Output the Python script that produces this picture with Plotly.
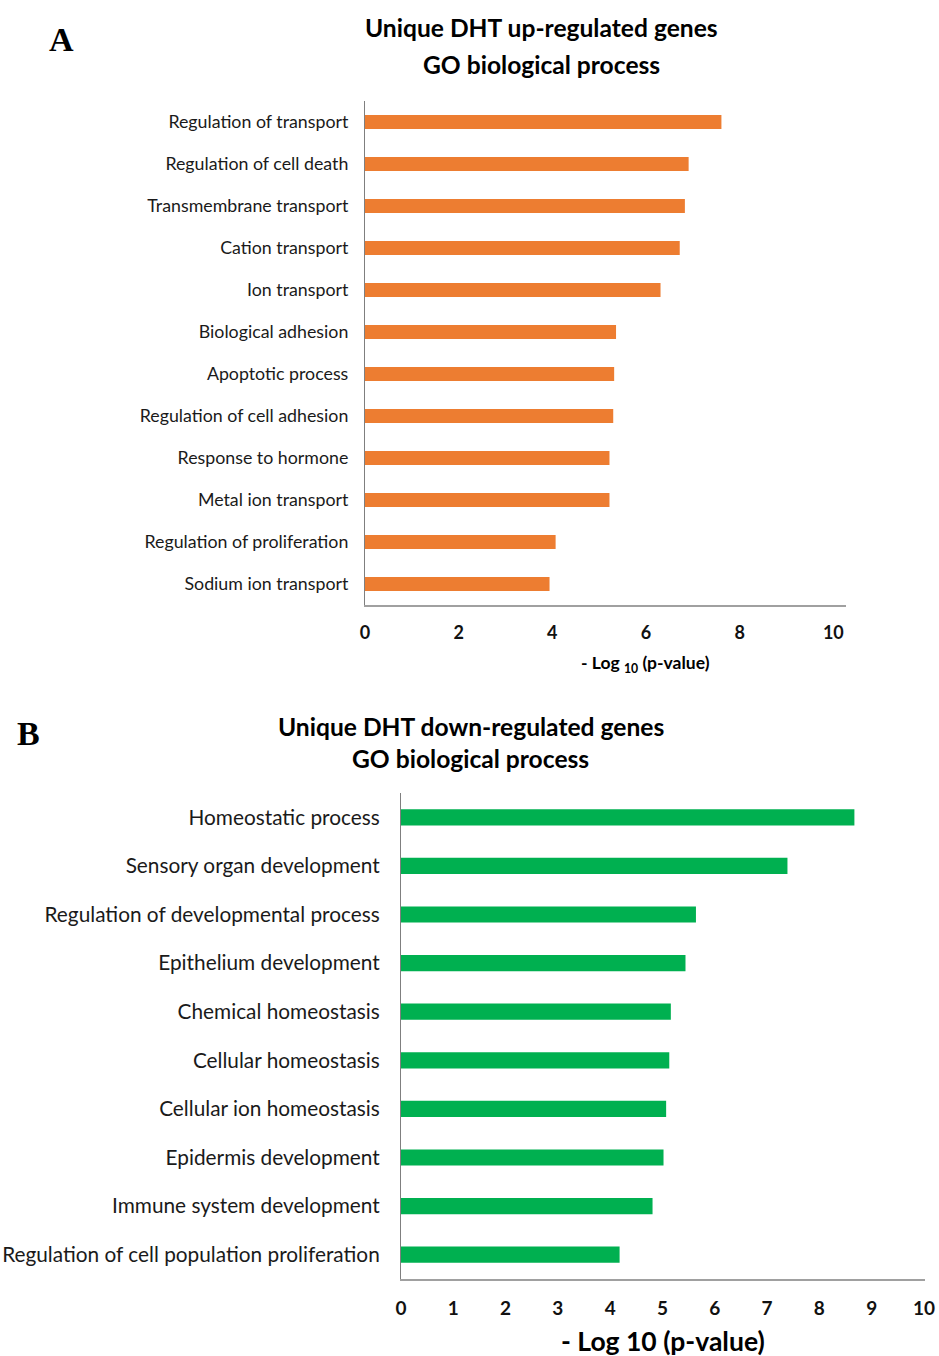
import plotly.graph_objects as go

# Panel A: GO terms enriched among unique DHT up-regulated genes
up_terms = [
    "Regulation of transport",
    "Regulation of cell death",
    "Transmembrane transport",
    "Cation transport",
    "Ion transport",
    "Biological adhesion",
    "Apoptotic process",
    "Regulation of cell adhesion",
    "Response to hormone",
    "Metal ion transport",
    "Regulation of proliferation",
    "Sodium ion transport",
]
up_logp = [7.61, 6.91, 6.83, 6.72, 6.31, 5.36, 5.32, 5.30, 5.22, 5.22, 4.07, 3.94]

# Panel B: GO terms enriched among unique DHT down-regulated genes
down_terms = [
    "Homeostatic process",
    "Sensory organ development",
    "Regulation of developmental process",
    "Epithelium development",
    "Chemical homeostasis",
    "Cellular homeostasis",
    "Cellular ion homeostasis",
    "Epidermis development",
    "Immune system development",
    "Regulation of cell population proliferation",
]
down_logp = [8.67, 7.39, 5.64, 5.44, 5.16, 5.13, 5.07, 5.02, 4.81, 4.18]

up_ticks = [0, 2, 4, 6, 8, 10]
down_ticks = [0, 1, 2, 3, 4, 5, 6, 7, 8, 9, 10]

W, H = 939, 1356
FONT = "Lato, 'Open Sans', sans-serif"
AXIS_GREY = "#a0a0a0"


def px_x(v):
    return v / W


def px_y(v):
    return 1 - v / H


fig = go.Figure()

fig.add_trace(go.Bar(
    x=up_logp, y=up_terms, orientation="h",
    marker=dict(color="#ED7D31", line=dict(width=0)),
    xaxis="x", yaxis="y", showlegend=False,
))
fig.add_trace(go.Bar(
    x=down_logp, y=down_terms, orientation="h",
    marker=dict(color="#00B050", line=dict(width=0)),
    xaxis="x2", yaxis="y2", showlegend=False,
))

fig.update_layout(
    template="none",
    width=W, height=H,
    margin=dict(l=0, r=0, t=0, b=0, autoexpand=False),
    paper_bgcolor="white", plot_bgcolor="white",
    bargap=0.667,
    font=dict(family=FONT, color="#1a1a1a"),
    xaxis=dict(
        domain=[px_x(365), px_x(846)], anchor="y", automargin=False,
        range=[0, 10.27], tickvals=up_ticks,
        showgrid=False, zeroline=False,
        showline=True, linecolor=AXIS_GREY, linewidth=1.5,
        ticks="", ticklabelstandoff=11,
        tickfont=dict(family=FONT, size=18, color="#111", weight="bold"),
    ),
    yaxis=dict(
        domain=[px_y(605), px_y(101)], anchor="x", automargin=False,
        categoryorder="array", categoryarray=up_terms, autorange="reversed",
        showgrid=False, zeroline=False,
        showline=True, linecolor="#7f7f7f", linewidth=1.2,
        ticks="", ticklabelstandoff=12,
        tickfont=dict(family=FONT, size=17.8, color="#1a1a1a"),
    ),
    xaxis2=dict(
        domain=[px_x(401), px_x(925)], anchor="y2", automargin=False,
        range=[0, 10.02], tickvals=down_ticks,
        showgrid=False, zeroline=False,
        showline=True, linecolor=AXIS_GREY, linewidth=1.8,
        ticks="", ticklabelstandoff=11,
        tickfont=dict(family=FONT, size=19, color="#111", weight="bold"),
    ),
    yaxis2=dict(
        domain=[px_y(1279), px_y(793)], anchor="x2", automargin=False,
        categoryorder="array", categoryarray=down_terms, autorange="reversed",
        showgrid=False, zeroline=False,
        showline=True, linecolor="#7f7f7f", linewidth=1.2,
        ticks="", ticklabelstandoff=16,
        tickfont=dict(family=FONT, size=20.8, color="#1a1a1a"),
    ),
)

annotations = [
    # panel letters
    dict(text="<b>A</b>", x=px_x(61), y=px_y(40),
         font=dict(family="Liberation Serif, serif", size=34, color="black")),
    dict(text="<b>B</b>", x=px_x(28), y=px_y(733),
         font=dict(family="Liberation Serif, serif", size=34, color="black")),
    # panel titles
    dict(text="<b>Unique DHT up-regulated genes</b>", x=px_x(541), y=px_y(28),
         font=dict(family=FONT, size=24.6, color="black")),
    dict(text="<b>GO biological process</b>", x=px_x(541), y=px_y(65),
         font=dict(family=FONT, size=24.6, color="black")),
    dict(text="<b>Unique DHT down-regulated genes</b>", x=px_x(471), y=px_y(726),
         font=dict(family=FONT, size=24.6, color="black")),
    dict(text="<b>GO biological process</b>", x=px_x(471), y=px_y(758),
         font=dict(family=FONT, size=24.6, color="black")),
    # axis titles
    dict(text="<b>- Log <sub>10</sub> (p-value)</b>", x=px_x(645), y=px_y(664),
         font=dict(family=FONT, size=17.5, color="black")),
    dict(text="<b>- Log 10 (p-value)</b>", x=px_x(663), y=px_y(1341),
         font=dict(family=FONT, size=26.5, color="black")),
]
for a in annotations:
    a.update(xref="paper", yref="paper", showarrow=False,
             xanchor="center", yanchor="middle")
fig.update_layout(annotations=annotations)

fig.write_html("out.html")
